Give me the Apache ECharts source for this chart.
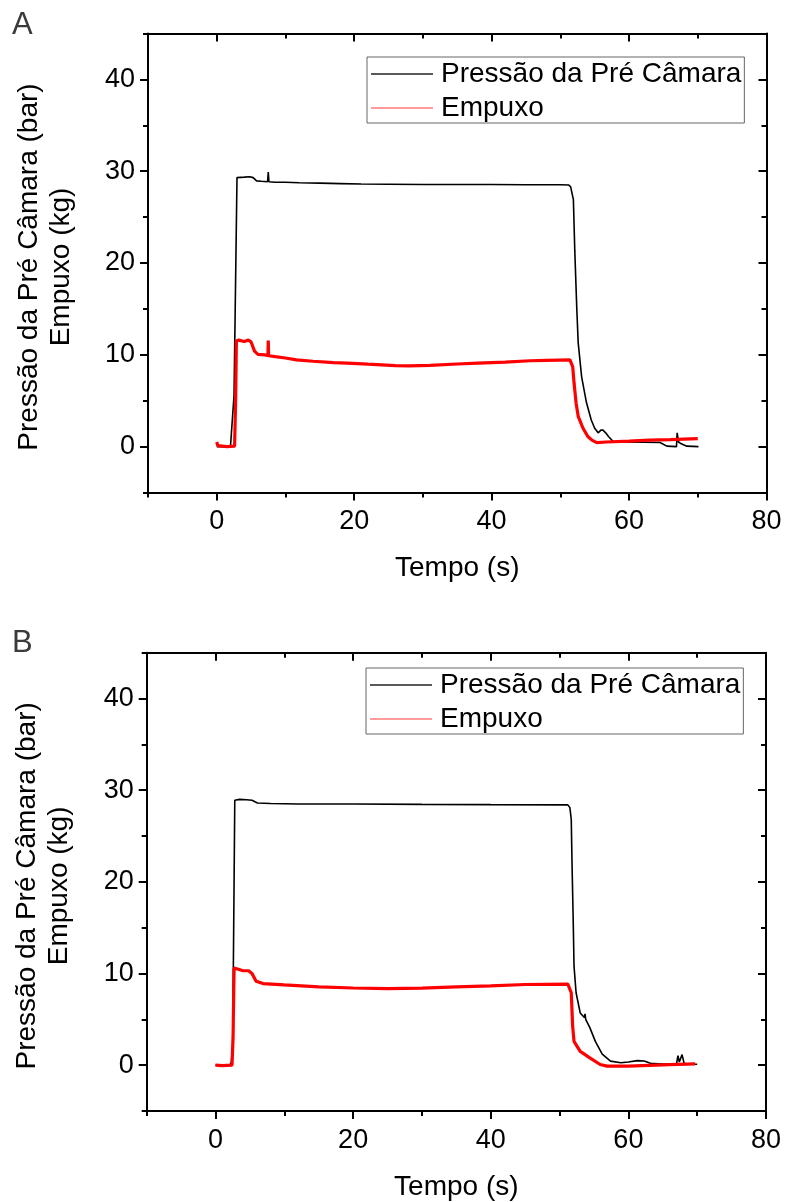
<!DOCTYPE html>
<html>
<head>
<meta charset="utf-8">
<script src="https://cdn.jsdelivr.net/npm/echarts@6/dist/echarts.min.js"></script>
<style>
  html, body { margin: 0; padding: 0; background: #fff; }
  #chart { width: 785px; height: 1202px; }
</style>
</head>
<body>
<div id="chart"></div>
<script>
// Series names
const nomePressao = 'Pressão da Pré Câmara';
const nomeEmpuxo = 'Empuxo';

// Panel A — chamber pressure (bar) vs time (s)
const tPressaoA = [0, 2.0, 2.14, 2.52, 2.95, 3.2, 4.0, 4.8, 5.3, 5.8, 6.5, 7.4, 7.5, 7.6, 8.5, 10, 12, 15, 18, 21, 25, 30, 35, 40, 45, 50, 51.2, 51.5, 51.9, 52.1, 52.4, 52.6, 53.1, 53.8, 54.5, 55.0, 55.5, 55.9, 56.2, 56.6, 57.0, 57.7, 59, 62, 64.5, 65.5, 66.9, 67.0, 67.2, 67.6, 68.4, 70.1];
const pressaoA  = [0, 0.0, 0.1, 5.6, 29.3, 29.4, 29.35, 29.4, 29.3, 28.95, 28.9, 28.85, 29.9, 28.85, 28.8, 28.8, 28.75, 28.7, 28.65, 28.6, 28.58, 28.55, 28.55, 28.55, 28.52, 28.52, 28.5, 28.3, 26.9, 21.4, 14.9, 11.3, 7.6, 4.8, 2.9, 2.0, 1.5, 1.8, 1.8, 1.5, 1.1, 0.55, 0.5, 0.48, 0.45, 0.05, 0.0, 1.5, 0.5, 0.3, 0.05, 0.0];

// Panel A — thrust (kg) vs time (s)
const tEmpuxoA = [0.0, 0.15, 0.3, 1.5, 2.6, 2.75, 2.86, 3.2, 4.0, 4.6, 5.0, 5.5, 6.0, 7.0, 7.45, 7.5, 7.55, 8.5, 10, 11.6, 14, 17, 19, 22, 26, 28, 31, 35, 38, 42, 45.6, 48, 51.4, 51.8, 52.0, 52.3, 52.6, 53.3, 54.0, 54.6, 55.3, 56.7, 60, 63, 66, 70];
const empuxoA  = [0.5, 0.1, 0.0, 0.0, 0.05, 5.0, 11.5, 11.6, 11.45, 11.6, 11.4, 10.4, 10.05, 10.0, 9.9, 11.55, 9.9, 9.8, 9.65, 9.45, 9.3, 9.15, 9.1, 8.98, 8.83, 8.8, 8.85, 9.0, 9.1, 9.2, 9.35, 9.4, 9.45, 8.7, 6.9, 4.7, 3.3, 2.0, 1.1, 0.7, 0.44, 0.5, 0.6, 0.7, 0.75, 0.87];

// Panel B — chamber pressure (bar) vs time (s)
const tPressaoB = [0, 2.1, 2.3, 2.5, 2.8, 3.5, 4.5, 5.3, 6.1, 8, 12, 20, 30, 40, 51.2, 51.5, 51.7, 51.8, 52.0, 52.1, 52.4, 53.0, 53.6, 53.7, 53.8, 54.4, 55.2, 56.2, 57.4, 58.9, 60.0, 61.3, 62.3, 63.2, 65, 67.0, 67.2, 67.4, 67.8, 68.1, 68.5, 70];
const pressaoB  = [0, 0.05, 0.3, 2.5, 28.9, 29.0, 28.95, 28.9, 28.6, 28.55, 28.5, 28.5, 28.45, 28.42, 28.4, 28.1, 26.8, 22.4, 15.1, 10.8, 7.9, 5.7, 5.2, 5.6, 5.0, 4.1, 2.6, 1.2, 0.44, 0.26, 0.35, 0.5, 0.45, 0.2, 0.12, 0.15, 1.05, 0.35, 1.15, 0.2, 0.1, 0.1];

// Panel B — thrust (kg) vs time (s)
const tEmpuxoB = [0.0, 1.0, 2.4, 2.55, 2.7, 3.2, 4.0, 4.8, 5.3, 5.9, 6.9, 10, 15, 20, 25, 30, 35, 40, 45, 51.2, 51.7, 51.9, 52.1, 53.0, 54.4, 55.9, 56.9, 60, 62, 66, 69.7];
const empuxoB  = [0.0, -0.05, 0.0, 3.0, 10.6, 10.5, 10.3, 10.3, 10.0, 9.15, 8.9, 8.75, 8.55, 8.42, 8.36, 8.4, 8.55, 8.65, 8.8, 8.85, 7.9, 4.25, 2.6, 1.5, 0.8, 0.07, -0.1, -0.1, -0.05, 0.05, 0.15];

// Axis ranges and tick positions
const xRange = [-10, 80];
const yRange = [-5, 45];
const xMajorTicks = [0, 20, 40, 60, 80];
const xMinorTicks = [-10, 10, 30, 50, 70];
const yMajorTicks = [0, 10, 20, 30, 40];
const yMinorTicks = [-5, 5, 15, 25, 35, 45];

const xTitle = 'Tempo (s)';
const yTitle = 'Pressão da Pré Câmara (bar)\nEmpuxo (kg)';
const panelLabels = ['A', 'B'];

const FONT = '"Liberation Sans", Arial, sans-serif';
const AX = { color: '#000', width: 2 };

function pairs(t, v) { return t.map((x, i) => [x, v[i]]); }

function xAxesFor(g) {
  const base = { type: 'value', gridIndex: g, min: xRange[0], max: xRange[1], splitLine: { show: false } };
  return [
    Object.assign({}, base, {
      position: 'bottom',
      axisLine: { show: true, onZero: false, lineStyle: AX },
      axisTick: { show: true, inside: false, length: 8, customValues: xMajorTicks, lineStyle: AX },
      axisLabel: { show: true, customValues: xMajorTicks, fontSize: 27, color: '#000', fontFamily: FONT, margin: 16 },
      name: xTitle, nameLocation: 'middle', nameGap: 62,
      nameTextStyle: { fontSize: 28, color: '#000', fontFamily: FONT }
    }),
    Object.assign({}, base, {
      position: 'bottom',
      axisLine: { show: false, onZero: false },
      axisTick: { show: true, inside: false, length: 5, customValues: xMinorTicks, lineStyle: AX },
      axisLabel: { show: false }
    }),
    Object.assign({}, base, {
      position: 'top',
      axisLine: { show: true, onZero: false, lineStyle: AX },
      axisTick: { show: true, inside: true, length: 8, customValues: xMajorTicks, lineStyle: AX },
      axisLabel: { show: false }
    }),
    Object.assign({}, base, {
      position: 'top',
      axisLine: { show: false, onZero: false },
      axisTick: { show: true, inside: true, length: 5, customValues: xMinorTicks, lineStyle: AX },
      axisLabel: { show: false }
    })
  ];
}

function yAxesFor(g) {
  const base = { type: 'value', gridIndex: g, min: yRange[0], max: yRange[1], splitLine: { show: false } };
  return [
    Object.assign({}, base, {
      position: 'left',
      axisLine: { show: true, onZero: false, lineStyle: AX },
      axisTick: { show: true, inside: false, length: 8, customValues: yMajorTicks, lineStyle: AX },
      axisLabel: { show: true, customValues: yMajorTicks, fontSize: 27, color: '#000', fontFamily: FONT, margin: 13 },
      name: yTitle, nameLocation: 'middle', nameGap: 71, nameRotate: 90,
      nameTextStyle: { fontSize: 28, lineHeight: 32, color: '#000', fontFamily: FONT, align: 'center', padding: [0, 8, 0, 0] }
    }),
    Object.assign({}, base, {
      position: 'left',
      axisLine: { show: false, onZero: false },
      axisTick: { show: true, inside: false, length: 5, customValues: yMinorTicks, lineStyle: AX },
      axisLabel: { show: false }
    }),
    Object.assign({}, base, {
      position: 'right',
      axisLine: { show: true, onZero: false, lineStyle: AX },
      axisTick: { show: true, inside: true, length: 8, customValues: yMajorTicks, lineStyle: AX },
      axisLabel: { show: false }
    }),
    Object.assign({}, base, {
      position: 'right',
      axisLine: { show: false, onZero: false },
      axisTick: { show: true, inside: true, length: 5, customValues: yMinorTicks, lineStyle: AX },
      axisLabel: { show: false }
    })
  ];
}

function lineSeries(name, data, g, color, width) {
  return {
    type: 'line', name: name, data: data,
    xAxisIndex: g * 4, yAxisIndex: g * 4,
    showSymbol: false, symbol: 'none',
    lineStyle: { color: color, width: width },
    itemStyle: { color: color },
    animation: false
  };
}

function legendFor(left, top) {
  return {
    orient: 'vertical', left: left, top: top,
    data: [
      { name: nomePressao, icon: 'rect', itemStyle: { color: '#222' } },
      { name: nomeEmpuxo, icon: 'rect', itemStyle: { color: '#ff7a7a' } }
    ],
    itemWidth: 62, itemHeight: 1.4, itemGap: 6,
    padding: [3, 3, 1, 4],
    borderColor: '#666', borderWidth: 1,
    textStyle: { fontSize: 28, lineHeight: 28, color: '#000', fontFamily: FONT, padding: [0, 0, 0, 3] },
    selectedMode: false
  };
}

const chart = echarts.init(document.getElementById('chart'), null, { renderer: 'canvas' });
chart.setOption({
  backgroundColor: '#fff',
  animation: false,
  title: [
    { text: panelLabels[0], left: 7, top: 5, textStyle: { fontSize: 31, fontWeight: 'normal', color: '#3a3a3a', fontFamily: FONT } },
    { text: panelLabels[1], left: 7, top: 623, textStyle: { fontSize: 31, fontWeight: 'normal', color: '#3a3a3a', fontFamily: FONT } }
  ],
  legend: [legendFor(367, 57), legendFor(366, 668)],
  grid: [
    { left: 148, top: 33.5, width: 618.5, height: 459 },
    { left: 146.7, top: 652.7, width: 619.3, height: 459 }
  ],
  xAxis: xAxesFor(0).concat(xAxesFor(1)),
  yAxis: yAxesFor(0).concat(yAxesFor(1)),
  series: [
    lineSeries(nomePressao, pairs(tPressaoA, pressaoA), 0, '#000', 1.6),
    lineSeries(nomeEmpuxo, pairs(tEmpuxoA, empuxoA), 0, '#ff0000', 3.2),
    lineSeries(nomePressao, pairs(tPressaoB, pressaoB), 1, '#000', 1.6),
    lineSeries(nomeEmpuxo, pairs(tEmpuxoB, empuxoB), 1, '#ff0000', 3.2)
  ]
});
</script>
</body>
</html>
